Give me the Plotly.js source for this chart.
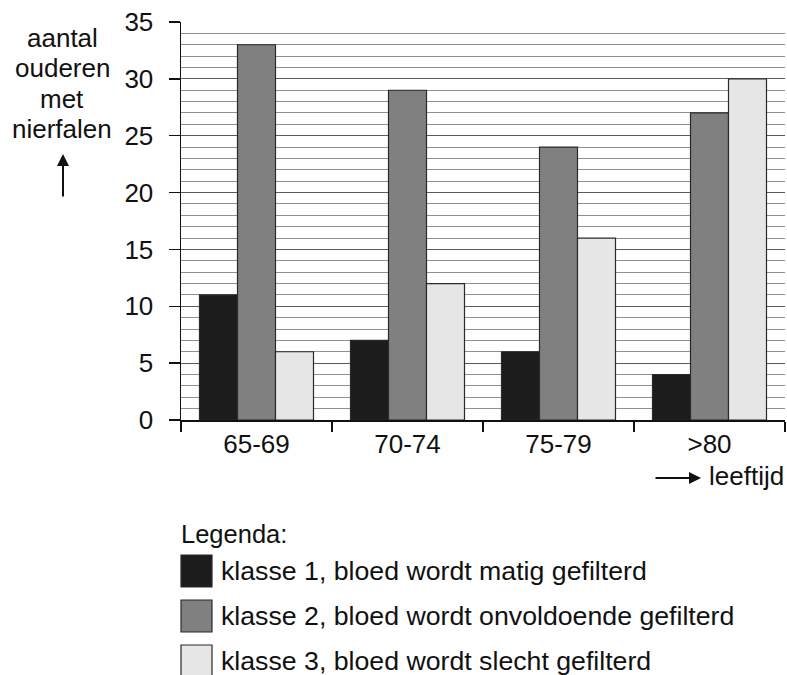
<!DOCTYPE html>
<html><head><meta charset="utf-8">
<script src="https://cdn.plot.ly/plotly-3.0.1.min.js"></script>
<style>html,body{margin:0;padding:0;background:#fff}</style>
</head><body><div id="chart" style="width:787px;height:675px"></div>
<script>
const categories = ['65-69', '70-74', '75-79', '>80'];
const klasse1 = [11, 7, 6, 4];
const klasse2 = [33, 29, 24, 27];
const klasse3 = [6, 12, 16, 30];
const seriesNames = [
  'klasse 1, bloed wordt matig gefilterd',
  'klasse 2, bloed wordt onvoldoende gefilterd',
  'klasse 3, bloed wordt slecht gefilterd'
];
const yTickVals = [0, 5, 10, 15, 20, 25, 30, 35];
const yTitleLines = ['aantal', 'ouderen', 'met', 'nierfalen'];
const xTitle = 'leeftijd';
const legendTitle = 'Legenda:';

const colors = ['#1c1c1c', '#808080', '#e6e6e6'];
const W = 787, H = 675, L = 181, R = 2, T = 22, B = 255;
const pw = W - L - R, ph = H - T - B;
const px = x => (x - L) / pw;
const py = y => (H - B - y) / ph;
const FONT = 'Liberation Sans, Arial, sans-serif';
const FS = 26;
const LFS = 26.7;

const series = [klasse1, klasse2, klasse3];
const traces = series.map((vals, i) => ({
  type: 'bar',
  x: categories,
  y: vals,
  name: seriesNames[i],
  marker: {color: colors[i], line: {color: '#2a2a2a', width: 1.2}},
  hoverinfo: 'x+y+name'
}));

const shapes = [];
const annotations = [];
yTitleLines.forEach((t, i) => {
  annotations.push({
    xref: 'paper', yref: 'paper', x: px(62), y: py(38 + 30.3 * i),
    text: t, showarrow: false,
    xanchor: 'center', yanchor: 'middle', align: 'center',
    font: {family: FONT, size: FS, color: '#111'}
  });
});
annotations.push({
  xref: 'paper', yref: 'paper', x: px(63), y: py(154),
  text: '', showarrow: true, ax: 0, ay: 44,
  arrowhead: 2, arrowsize: 1.2, arrowwidth: 2, arrowcolor: '#111'
});
annotations.push({
  xref: 'paper', yref: 'paper', x: px(701), y: py(478),
  text: '', showarrow: true, ax: -47, ay: 0,
  arrowhead: 2, arrowsize: 1.2, arrowwidth: 2, arrowcolor: '#111'
});
annotations.push({
  xref: 'paper', yref: 'paper', x: px(707), y: py(476),
  text: xTitle, showarrow: false, xanchor: 'left', yanchor: 'middle',
  font: {family: FONT, size: FS, color: '#111'}
});
annotations.push({
  xref: 'paper', yref: 'paper', x: px(179), y: py(534),
  text: legendTitle, showarrow: false, xanchor: 'left', yanchor: 'middle',
  font: {family: FONT, size: 25.5, color: '#111'}
});
seriesNames.forEach((n, i) => {
  const cy = 571 + 45 * i;
  shapes.push({
    type: 'rect', xref: 'paper', yref: 'paper',
    x0: px(181), x1: px(212), y0: py(cy - 16), y1: py(cy + 16),
    fillcolor: colors[i], line: {color: '#2a2a2a', width: 1.2}
  });
  annotations.push({
    xref: 'paper', yref: 'paper', x: px(219), y: py(cy),
    text: n, showarrow: false, xanchor: 'left', yanchor: 'middle',
    font: {family: FONT, size: LFS, color: '#111'}
  });
});

const layout = {
  width: W, height: H,
  margin: {l: L, r: R, t: T, b: B, pad: 0},
  paper_bgcolor: '#fff', plot_bgcolor: '#fff',
  barmode: 'group', bargap: 0.245, bargroupgap: 0,
  showlegend: false,
  font: {family: FONT, size: FS, color: '#111'},
  xaxis: {
    type: 'category', showline: true, linecolor: '#111', linewidth: 1.5,
    ticks: 'outside', tickson: 'boundaries', ticklen: 10, tickcolor: '#111', tickwidth: 1.5,
    showgrid: false, zeroline: false, fixedrange: true,
    tickfont: {family: FONT, size: FS, color: '#111'}
  },
  yaxis: {
    range: [0, 35], tickvals: yTickVals, ticks: 'outside', ticklen: 11,
    tickcolor: '#111', tickwidth: 1.5, showline: true, linecolor: '#111', linewidth: 1.5,
    showgrid: true, gridcolor: '#5a5a5a', gridwidth: 1.2, zeroline: false,
    minor: {dtick: 1, showgrid: true, gridcolor: '#909090', gridwidth: 1, ticks: ''},
    ticklabelstandoff: 10, fixedrange: true,
    tickfont: {family: FONT, size: FS, color: '#111'}
  },
  shapes: shapes,
  annotations: annotations
};

Plotly.newPlot('chart', traces, layout, {displayModeBar: false, staticPlot: true});
</script></body></html>
